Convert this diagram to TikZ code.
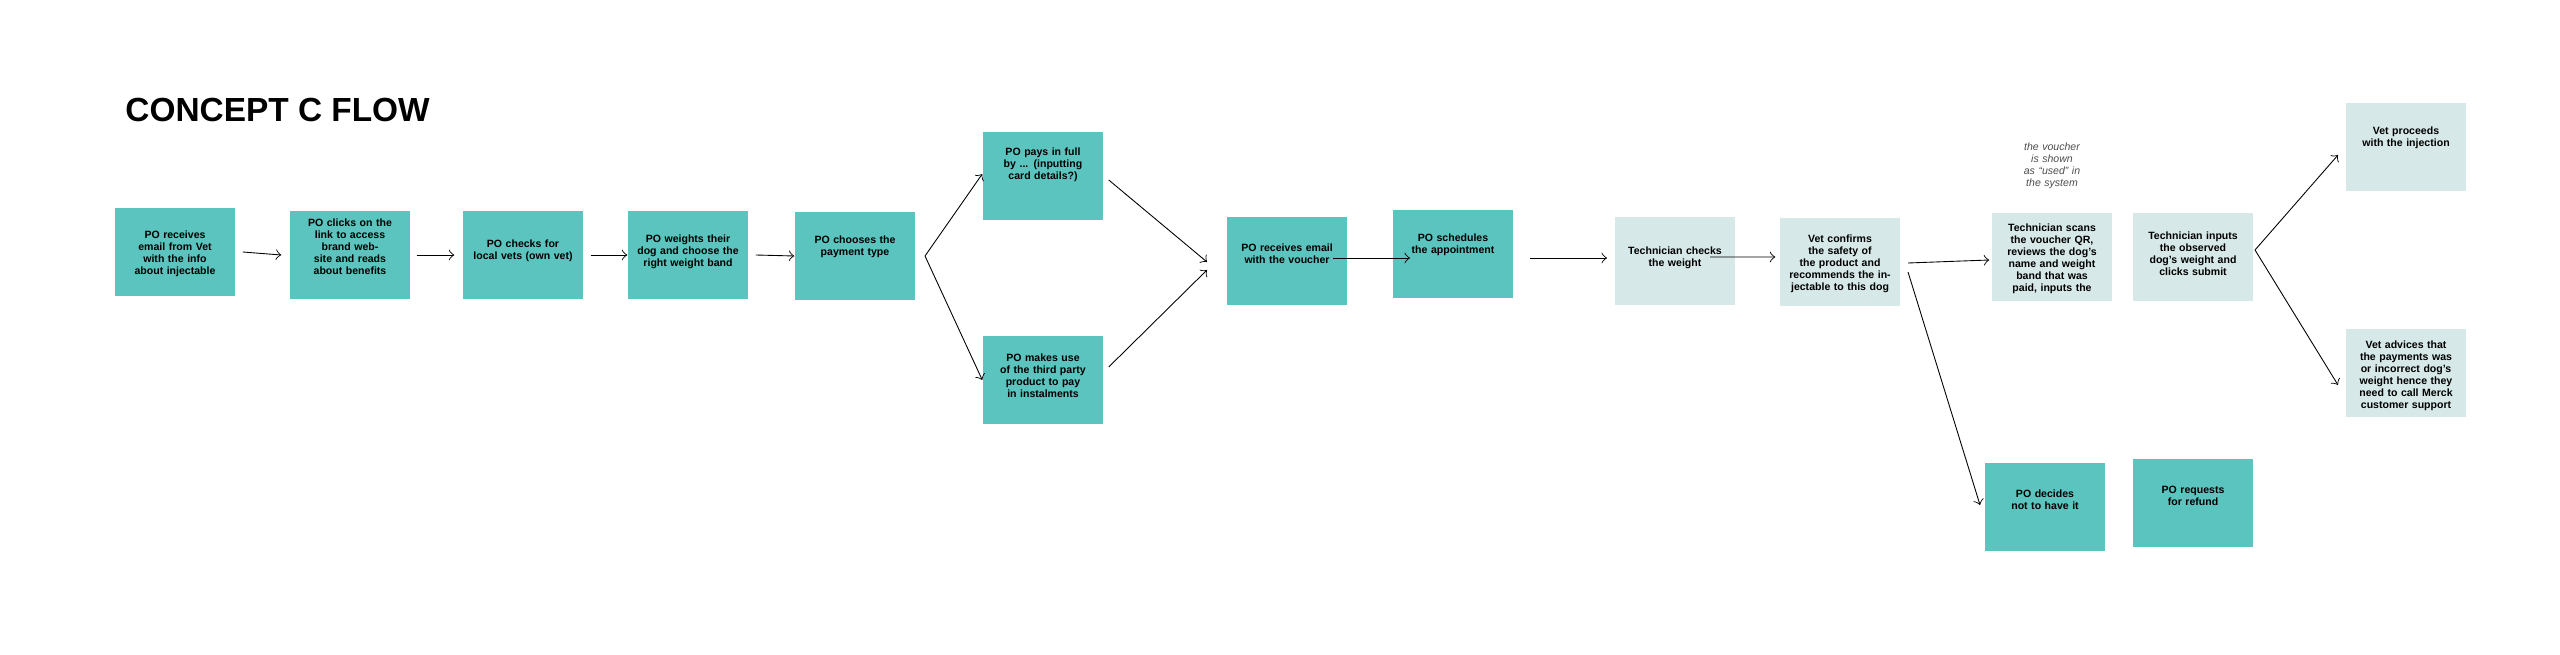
\documentclass[tikz,border=0pt]{standalone}
\usepackage{fontspec}
\setmainfont{Liberation Sans}
\usetikzlibrary{arrows,positioning}
\definecolor{teal1}{HTML}{5BC4BE}
\definecolor{pale1}{HTML}{D6E8E7}
\tikzset{
  po/.style={rectangle,fill=teal1,minimum width=1.2cm,minimum height=0.88cm,inner sep=0},
  tech/.style={rectangle,fill=pale1,minimum width=1.2cm,minimum height=0.88cm,inner sep=0},
  txt/.style={align=center,text width=1.02cm,inner sep=0,font=\fontsize{3}{3.4}\selectfont\bfseries},
  note/.style={align=center,text width=0.7cm,inner sep=0,font=\fontsize{3}{3.4}\selectfont\itshape,text=black!70},
  flow/.style={->,line width=0.25pt,>=to}
}
\begin{document}
\begin{tikzpicture}[x=0.01cm,y=-0.01cm]
\useasboundingbox (0,0) rectangle (2560,655);
\node[anchor=west,font=\fontsize{9.5}{11}\selectfont\bfseries] (title) at (113,110) {CONCEPT C FLOW};
% owner steps
\node[po] (b1) at (175,252) {};
\node[po] (b2) at (350,255) {};
\node[po] (b3) at (523,255) {};
\node[po] (b4) at (688,255) {};
\node[po] (b5) at (855,256) {};
\node[po] (b6) at (1043,176) {};
\node[po] (b7) at (1043,380) {};
\node[po] (b8) at (1287,261) {};
\node[po] (b9) at (1453,254) {};
\node[po] (b16) at (2045,507) {};
\node[po] (b17) at (2193,503) {};
% clinic steps
\node[tech] (b10) at (1675,261) {};
\node[tech] (b11) at (1840,262) {};
\node[tech] (b12) at (2052,257) {};
\node[tech] (b13) at (2193,257) {};
\node[tech] (b14) at (2406,147) {};
\node[tech] (b15) at (2406,373) {};
% texts
\node[txt] (t1) at (175,254) {PO receives email from Vet\ \ with the info about injectable};
\node[txt] (t2) at (350,247) {PO clicks on the link to access brand website and reads about benefits};
\node[txt] (t3) at (523,251) {PO checks for local vets (own vet)};
\node[txt] (t4) at (688,252) {PO weights their dog and choose the right weight band};
\node[txt] (t5) at (855,247) {PO chooses the payment type};
\node[txt] (t6) at (1043,165) {PO pays in full by ... (inputting card details?)};
\node[txt] (t7) at (1043,376) {PO makes use of the third party product to pay in instalments};
\node[txt] (t8) at (1287,254) {PO receives email with the voucher};
\node[txt] (t9) at (1453,245) {PO schedules the appointment};
\node[txt] (t10) at (1675,258) {Technician checks the weight};
\node[txt] (t11) at (1840,264) {Vet confirms the safety of the product and recommends the injectable to this dog};
\node[txt] (t12) at (2052,259) {Technician scans the voucher QR, reviews the dog's name and weight band that was paid, inputs the};
\node[txt] (t13) at (2193,254) {Technician inputs the observed dog's weight and clicks submit};
\node[txt] (t14) at (2406,138) {Vet proceeds with the injection};
\node[txt] (t15) at (2406,376) {Vet advices that the payments was or incorrect dog's weight hence they need to call Merck customer support};
\node[txt] (t16) at (2045,500) {PO decides not to have it};
\node[txt] (t17) at (2193,496) {PO requests for refund};
\node[note] (n1) at (2052,166) {the voucher is shown as ``used'' in the system};
% connectors
\coordinate (s5) at (925,256);
\coordinate (e8a) at (1207,262);
\coordinate (e8b) at (1207,270);
\coordinate (s8) at (1333,258);
\coordinate (e9) at (1410,258);
\coordinate (s9) at (1530,258);
\coordinate (e10) at (1607,258);
\coordinate (s10) at (1710,257);
\coordinate (s11a) at (1908,263);
\coordinate (s11b) at (1908,272);
\coordinate (s13) at (2255,250);
\coordinate (e14) at (2338,155);
\coordinate (e15) at (2338,385);
\coordinate (e16) at (1980,505);
\draw[flow] ([xshift=0.07cm]b1.east) -- ([xshift=-0.08cm]b2.west);
\draw[flow] ([xshift=0.06cm]b2.east) -- ([xshift=-0.08cm]b3.west);
\draw[flow] ([xshift=0.07cm]b3.east) -- (b4.west);
\draw[flow] ([xshift=0.07cm]b4.east) -- (b5.west);
\draw[flow] (s5) -- ([yshift=0.02cm]b6.west);
\draw[flow] (s5) -- (b7.west);
\draw[flow] ([xshift=0.05cm,yshift=-0.04cm]b6.east) -- (e8a);
\draw[flow] ([xshift=0.05cm,yshift=0.13cm]b7.east) -- (e8b);
\draw[flow] (s8) -- (e9);
\draw[flow] (s9) -- (e10);
\draw[flow] (s10) -- ([xshift=-0.04cm,yshift=0.05cm]b11.west);
\draw[flow] (s11a) -- ([xshift=-0.02cm,yshift=-0.03cm]b12.west);
\draw[flow] (s11b) -- (e16);
\draw[flow] (s13) -- (e14);
\draw[flow] (s13) -- (e15);
\end{tikzpicture}
\end{document}
